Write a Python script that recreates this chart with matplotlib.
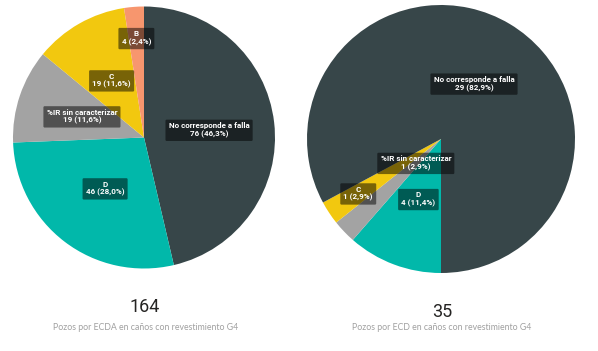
import numpy as np
import matplotlib
matplotlib.use("Agg")
import matplotlib.pyplot as plt
from matplotlib import font_manager

# datos
left_labels = ['No corresponde a falla', 'D', '%IR sin caracterizar', 'C', 'B']
left_values = [76, 46, 19, 19, 4]
left_colors = ['#374649', '#01B8AA', '#A3A3A3', '#F2C80F', '#F7966E']
left_lab_r = [0.50, 0.49, 0.50, 0.50, 0.76]
left_total = 164
left_title = 'Pozos por ECDA en caños con revestimiento G4'

right_labels = ['D', '%IR sin caracterizar', 'C', 'No corresponde a falla']
right_values = [4, 1, 1, 29]
right_colors = ['#01B8AA', '#A3A3A3', '#F2C80F', '#374649']
right_lab_r = [0.48, 0.26, 0.74, 0.48]
right_total = 35
right_title = 'Pozos por ECD en caños con revestimiento G4'

W, H = 598, 351
fig = plt.figure(figsize=(W / 100, H / 100), dpi=100)
fig.patch.set_facecolor('white')

# fuente angosta si existe, si no Roboto
installed = {f.name for f in font_manager.fontManager.ttflist}
if 'Liberation Sans Narrow' in installed:
    label_font = ['Liberation Sans Narrow', 'DejaVu Sans']
    label_size = 6.3
else:
    label_font = ['Roboto', 'DejaVu Sans']
    label_size = 5.8


def fmt_pct(v, tot):
    return ('%.1f' % (100.0 * v / tot)).replace('.', ',')


def draw_pie(cx, cy, r, labels, values, colors, lab_r, start):
    ax = fig.add_axes([(cx - r) / W, (H - cy - r) / H, 2 * r / W, 2 * r / H])
    wedges, _ = ax.pie(values, colors=colors, startangle=start,
                       counterclock=False, radius=1.0,
                       wedgeprops=dict(linewidth=0))
    tot = sum(values)
    for w, lab, v, fr in zip(wedges, labels, values, lab_r):
        ang = np.deg2rad((w.theta1 + w.theta2) / 2)
        x, y = fr * np.cos(ang), fr * np.sin(ang)
        ax.text(x, y, '%s\n%d (%s%%)' % (lab, v, fmt_pct(v, tot)),
                ha='center', va='center', color='white', fontsize=label_size,
                fontweight='bold', family=label_font, linespacing=1.15,
                bbox=dict(boxstyle='round,pad=0.4,rounding_size=0.15',
                          fc='black', ec='none', alpha=0.5))
    ax.set_xlim(-1, 1)
    ax.set_ylim(-1, 1)
    ax.set_aspect('auto')
    ax.axis('off')
    return ax


draw_pie(144, 137.5, 131, left_labels, left_values, left_colors, left_lab_r, 90)
draw_pie(441, 139, 134, right_labels, right_values, right_colors, right_lab_r, 270)

# tarjetas con totales
fig.text(145 / W, 1 - 307 / H, str(left_total), ha='center', va='center',
         fontsize=13, color='#252423', family=['Roboto', 'DejaVu Sans'])
fig.text(146 / W, 1 - 327 / H, left_title, ha='center', va='center',
         fontsize=6.3, color='#A0A0A0', family=['Lato', 'DejaVu Sans'])
fig.text(442 / W, 1 - 312 / H, str(right_total), ha='center', va='center',
         fontsize=13, color='#252423', family=['Roboto', 'DejaVu Sans'])
fig.text(442 / W, 1 - 328 / H, right_title, ha='center', va='center',
         fontsize=6.3, color='#A0A0A0', family=['Lato', 'DejaVu Sans'])

fig.savefig('out.png', dpi=100)
